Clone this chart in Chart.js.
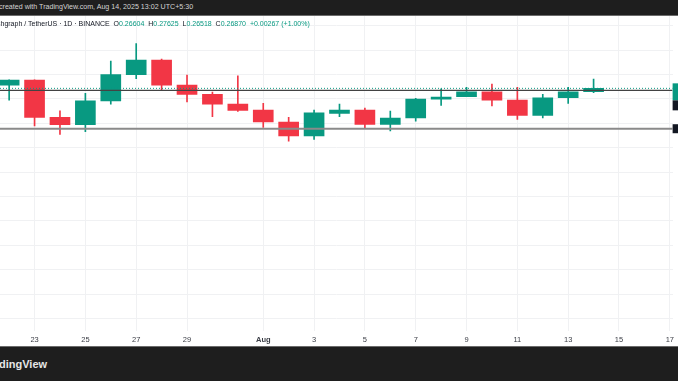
<!DOCTYPE html>
<html>
<head>
<meta charset="utf-8">
<script src="https://cdn.jsdelivr.net/npm/chart.js@4.4.1/dist/chart.umd.min.js"></script>
<style>
  html, body { margin: 0; padding: 0; background: #fff; }
  body { width: 678px; height: 381px; position: relative; overflow: hidden; font-family: "Liberation Sans", Arial, sans-serif; }
  #topBar { position: absolute; left: 0; top: 0; width: 678px; height: 16px; background: #1e1e1e; border-bottom: 1px solid #6b6b6b; box-sizing: border-box; }
  #topBar span { position: absolute; left: -1px; top: 3px; font-size: 7.1px; color: #d4d4d4; white-space: nowrap; }
  #legend { position: absolute; left: -3px; top: 20px; font-size: 7px; color: #131722; white-space: nowrap; z-index: 2; }
  #legend .v { color: #089981; }
  #chartBox { position: absolute; left: 0; top: 16px; width: 678px; height: 331px; }
  #bottomBar { position: absolute; left: 0; top: 346px; width: 678px; height: 35px; background: #1e1e1e; border-top: 1px solid #6b6b6b; box-sizing: border-box; }
  #bottomBar span { position: absolute; left: -1px; top: 11px; font-size: 11px; font-weight: bold; color: #e6e6e6; }
</style>
</head>
<body>
<div id="topBar"><span>created with TradingView.com, Aug 14, 2025 13:02 UTC+5:30</span></div>
<div id="legend">shgraph / TetherUS · 1D · BINANCE &nbsp;O<span class="v">0.26604</span> &nbsp;H<span class="v">0.27625</span> &nbsp;L<span class="v">0.26518</span> &nbsp;C<span class="v">0.26870</span> &nbsp;<span class="v">+0.00267 (+1.00%)</span></div>
<div id="chartBox"><canvas id="chart" width="678" height="331"></canvas></div>
<div id="bottomBar"><span>dingView</span></div>
<script>
// daily candles, Jul 22 .. Aug 14
const days = ['Jul 22', 'Jul 23', 'Jul 24', 'Jul 25', 'Jul 26', 'Jul 27', 'Jul 28', 'Jul 29', 'Jul 30', 'Jul 31',
              'Aug 1', 'Aug 2', 'Aug 3', 'Aug 4', 'Aug 5', 'Aug 6', 'Aug 7', 'Aug 8', 'Aug 9', 'Aug 10',
              'Aug 11', 'Aug 12', 'Aug 13', 'Aug 14'];
const opens  = [0.2714, 0.2755, 0.2449, 0.2389, 0.2583, 0.2799, 0.2919, 0.2714, 0.2638, 0.2558,
                0.2509, 0.2411, 0.2298, 0.2482, 0.2509, 0.2392, 0.2444, 0.2599, 0.2618, 0.2659,
                0.2591, 0.2466, 0.2610, 0.26604];
const highs  = [0.2757, 0.2757, 0.2503, 0.2646, 0.2911, 0.3053, 0.2927, 0.2796, 0.2657, 0.2790,
                0.2564, 0.2449, 0.2509, 0.2558, 0.2526, 0.2501, 0.2605, 0.2684, 0.2695, 0.2722,
                0.2695, 0.2638, 0.2695, 0.27625];
const lows   = [0.2591, 0.2380, 0.2310, 0.2331, 0.2558, 0.2766, 0.2667, 0.2575, 0.2454, 0.2498,
                0.2367, 0.2253, 0.2269, 0.2454, 0.2356, 0.2337, 0.2417, 0.2548, 0.2618, 0.2542,
                0.2433, 0.2444, 0.2564, 0.26518];
const closes = [0.2755, 0.2449, 0.2389, 0.2585, 0.2799, 0.2919, 0.2714, 0.2638, 0.2558, 0.2507,
                0.2411, 0.2298, 0.2487, 0.2509, 0.2392, 0.2444, 0.2599, 0.2616, 0.2659, 0.2591,
                0.2466, 0.2610, 0.2659, 0.26870];

// x ticks (day index from Jul 22)
const tickDays   = [1, 3, 5, 7, 10, 12, 14, 16, 18, 20, 22, 24, 26];
const tickLabels = ['23', '25', '27', '29', 'Aug', '3', '5', '7', '9', '11', '13', '15', '17'];
const gridPrices = [0.08, 0.10, 0.12, 0.14, 0.16, 0.18, 0.20, 0.22, 0.24, 0.26, 0.28, 0.30, 0.32];

// drawn horizontal levels
const levelLines = [0.2671, 0.2356];

const X_MIN = -0.36, X_MAX = 26.11;
const Y_MIN = 0.0698, Y_MAX = 0.3280;
const UP = '#089981', DOWN = '#f23645';

const candleColors = opens.map((o, i) => closes[i] >= o ? UP : DOWN);
const lastClose = closes[closes.length - 1];

const hLine = (value, color, width, dash) => ({
    type: 'line',
    data: [{ x: X_MIN, y: value }, { x: X_MAX, y: value }],
    borderColor: color,
    borderWidth: width,
    borderDash: dash || [],
    pointRadius: 0,
    fill: false
});

// cut-off price-axis labels at the right edge
const edgeLabels = {
    id: 'edgeLabels',
    afterDraw(chart) {
        const { ctx, chartArea, scales } = chart;
        const x0 = chartArea.right;
        const w = chart.width - x0;
        const yc = scales.y.getPixelForValue(lastClose);
        ctx.save();
        ctx.fillStyle = UP;
        ctx.fillRect(x0, yc - 5, w, 17);
        ctx.fillStyle = '#131722';
        ctx.fillRect(x0, yc + 12, w, 10);
        const yl = scales.y.getPixelForValue(levelLines[1]);
        ctx.fillRect(x0, yl - 4.5, w, 9);
        ctx.restore();
    }
};

const ctx = document.getElementById('chart').getContext('2d');
new Chart(ctx, {
    type: 'bar',
    data: {
        datasets: [
            hLine(lastClose, UP, 1, [1, 2]),
            hLine(levelLines[0], '#434343', 1.2),
            hLine(levelLines[1], '#8a8a8a', 2),
            {
                label: 'body',
                data: days.map((d, i) => ({ x: i, y: [opens[i], closes[i]] })),
                backgroundColor: candleColors,
                barThickness: 20,
                grouped: false,
                borderSkipped: false,
                minBarLength: 1
            },
            {
                label: 'wick',
                data: days.map((d, i) => ({ x: i, y: [lows[i], highs[i]] })),
                backgroundColor: candleColors,
                barThickness: 1,
                grouped: false,
                borderSkipped: false
            }
        ]
    },
    options: {
        responsive: false,
        devicePixelRatio: 1,
        animation: false,
        layout: { padding: 0 },
        plugins: {
            legend: { display: false },
            tooltip: { enabled: false }
        },
        scales: {
            x: {
                type: 'linear',
                min: X_MIN,
                max: X_MAX,
                offset: false,
                afterBuildTicks: (scale) => { scale.ticks = tickDays.map(v => ({ value: v })); },
                afterFit: (scale) => { scale.height = 16; },
                grid: { color: '#f0f1f3', drawTicks: false, offset: false },
                border: { display: false },
                ticks: {
                    autoSkip: false,
                    maxRotation: 0,
                    padding: 4,
                    color: '#3a3d45',
                    font: (c) => ({
                        family: '"Liberation Sans", Arial, sans-serif',
                        size: 7.5,
                        weight: c.tick && tickLabels[tickDays.indexOf(c.tick.value)] === 'Aug' ? 'bold' : 'normal'
                    }),
                    callback: (value) => tickLabels[tickDays.indexOf(value)]
                }
            },
            y: {
                type: 'linear',
                position: 'right',
                min: Y_MIN,
                max: Y_MAX,
                afterBuildTicks: (scale) => { scale.ticks = gridPrices.map(v => ({ value: v })); },
                afterFit: (scale) => { scale.width = 2; },
                grid: { color: '#f0f1f3', drawTicks: false },
                border: { display: false },
                ticks: { display: false }
            }
        }
    },
    plugins: [edgeLabels]
});
</script>
</body>
</html>
